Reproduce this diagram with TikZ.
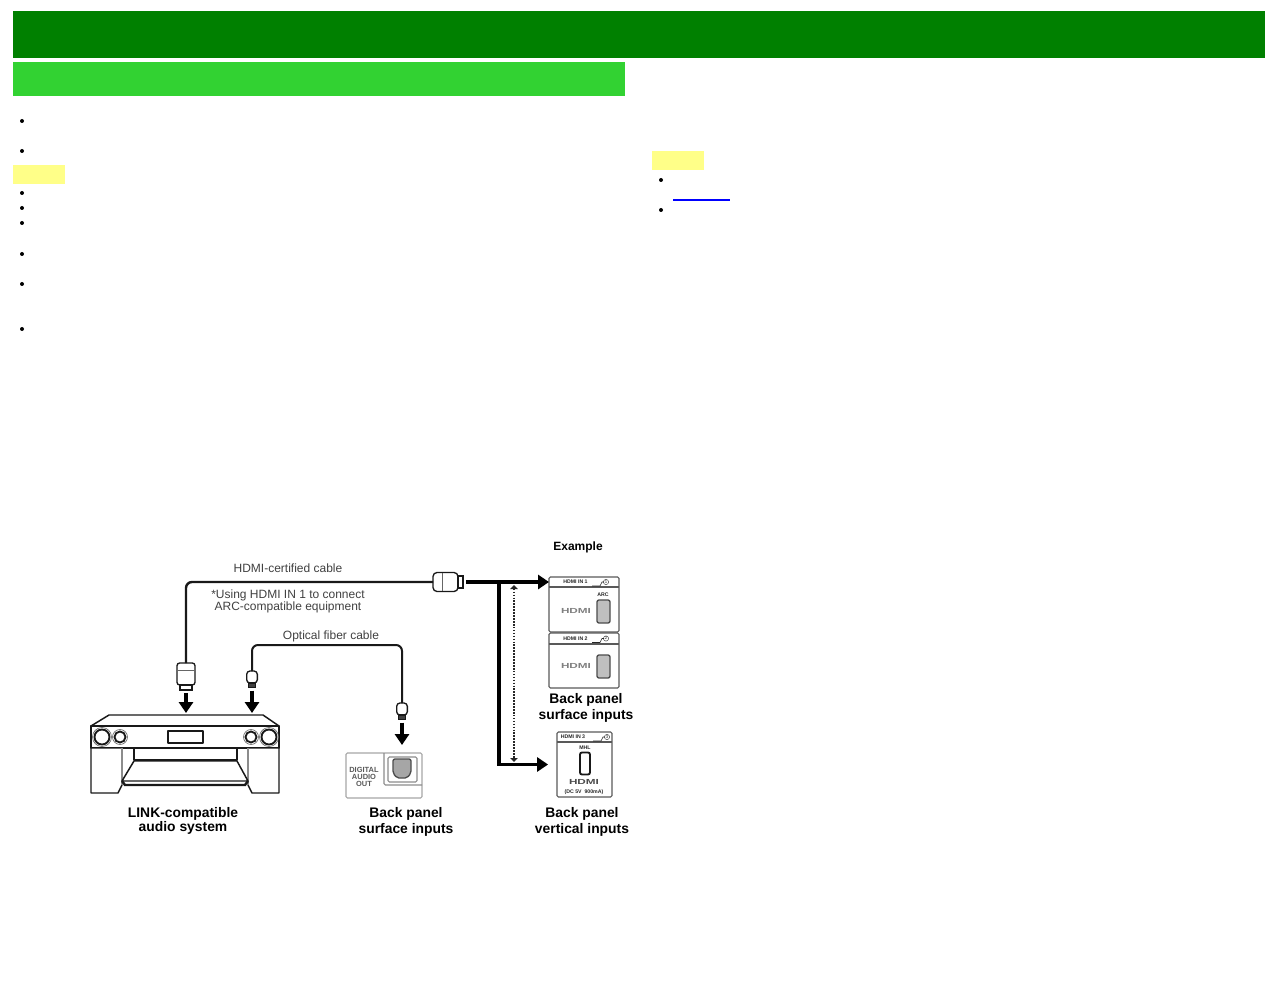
\documentclass[tikz,border=0pt]{standalone}
\usepackage{fontspec}
\setmainfont{Liberation Sans}
\usetikzlibrary{arrows.meta}

\begin{document}
\begin{tikzpicture}[x=0.75pt, y=-0.75pt,
  listdot/.style={circle, fill=black, inner sep=0pt, minimum size=3pt},
  cable/.style={line width=1.8pt, black!90, rounded corners=4.5pt},
  feed/.style={-{Triangle[length=8.2pt, width=10.5pt]}, line width=2.3pt},
  plug/.style={draw=black!90, line width=1pt, fill=white, inner sep=0pt, outer sep=0pt, rounded corners=2pt},
  panel/.style={draw=black!65, line width=0.8pt, inner sep=0pt, outer sep=0pt, rounded corners=1pt},
  port/.style={draw=black!70, line width=1pt, fill=gray!50, inner sep=0pt, outer sep=0pt, rounded corners=1.5pt},
  note/.style={align=center, text=black!75, font=\fontsize{9}{8.25}\selectfont, inner sep=0pt},
  caption/.style={align=center, font=\fontsize{10.4}{12}\selectfont\bfseries, inner sep=0pt},
  tiny/.style={text=black!85, inner sep=0pt, font=\fontsize{3.9}{4.5}\selectfont\bfseries},
  logo/.style={text=black!50, inner sep=0pt, xscale=1.6, font=\fontsize{5.5}{6}\selectfont\bfseries},
  unit/.style={line width=1.1pt, black!90, fill=white, line join=round}
]
\useasboundingbox (0,0) rectangle (1265,995);

% page bars
\fill[fill={rgb,255:red,0;green,128;blue,0}] (13,11) rectangle (1265,58);
\fill[fill={rgb,255:red,50;green,210;blue,50}] (13,62) rectangle (625,96);
\fill[fill={rgb,255:red,255;green,255;blue,136}] (13,165) rectangle (65,184);
\fill[fill={rgb,255:red,255;green,255;blue,136}] (652,151) rectangle (704,170);
\fill[blue] (673,199) rectangle (730,201);
\foreach \y in {121,151,193,208,223,254,284,329} { \node[listdot] at (22,\y) {}; }
\foreach \y in {180,210} { \node[listdot] at (661,\y) {}; }

% audio system
\draw[unit] (91,726) -- (109,715) -- (263,715) -- (279,726) -- cycle;
\draw[unit] (91,726) rectangle (279,748);
\draw[line width=2pt, black!90] (91,748) -- (279,748);
\draw[unit] (91,748) -- (122,748) -- (122,785) -- (118,793) -- (91,793) -- cycle;
\draw[unit] (279,748) -- (248,748) -- (248,785) -- (252,793) -- (279,793) -- cycle;
\draw[line width=0.8pt, black!45] (122,748) -- (122,785) (248,748) -- (248,785);
\draw[unit] (134,748) rectangle (237,760);
\draw[unit] (134,761) -- (122,781) -- (248,781) -- (237,761) -- cycle;
\draw[line width=1.8pt, black!90] (122,781) -- (125,785) -- (245,785) -- (248,781);
\draw[unit, line width=0.9pt] (168,731) rectangle (203,743);
\foreach \x/\r in {102/7.5, 120/5.5, 251/5.5, 269/7.5} {
  \draw[line width=1.4pt, black!90, fill=white] (\x,737) circle[radius=\r];
  \draw[line width=0.5pt, black!60] (\x,737) circle[radius=\r+2];
}

% plugs
\node[plug, minimum width=13.5pt, minimum height=16.5pt] (hdmiplug) at (186,674) {};
\draw[line width=0.7pt, black!60] (hdmiplug.west |- 0,670) -- (hdmiplug.east |- 0,670);
\node[plug, minimum width=9pt, minimum height=3.75pt, rounded corners=0pt, anchor=north] (hdmitip) at (hdmiplug.south) {};
\foreach \n/\x/\y in {sys/252/677, dig/402/709} {
  \node[plug, minimum width=8pt, minimum height=9pt, rounded corners=2.5pt] (optplug\n) at (\x,\y) {};
  \node[plug, fill=black!75, minimum width=5pt, minimum height=3.6pt, rounded corners=0pt, anchor=north] (opttip\n) at (optplug\n.south) {};
}
\node[plug, minimum width=18.75pt, minimum height=14.25pt, rounded corners=3pt] (inplug) at (445.5,582) {};
\draw[line width=0.7pt, black!60] (442,573) -- (442,591);
\node[plug, minimum width=3.75pt, minimum height=9pt, rounded corners=0pt, anchor=west] (intip) at (inplug.east) {};

% panels
\node[panel, minimum width=52.5pt, minimum height=41.25pt] (panelone) at (584,604.5) {};
\node[panel, minimum width=52.5pt, minimum height=41.25pt] (paneltwo) at (584,660.5) {};
\node[panel, minimum width=41.25pt, minimum height=48.75pt] (panelthree) at (584.5,764.5) {};
\node[panel, draw=black!35, minimum width=57pt, minimum height=33.75pt] (optpanel) at (384,775.5) {};
\coordinate (headone) at (549,582);
\draw[panel] (549,587) -- (619,587) (549,644) -- (619,644) (557,742) -- (612,742);
\draw[panel, draw=black!45] (384,753) -- (384,785) -- (422,785);
\draw[panel, draw=black!45] (388,757) rectangle (417,782);
\path[port, fill=gray!70] (393,759) -- (411,759) -- (411,773) -- (407,778) -- (397,778) -- (393,773) -- cycle;

\node[tiny] (labelone) at (575.5,582) {HDMI IN 1};
\node[tiny] (labeltwo) at (575.5,638.5) {HDMI IN 2};
\node[tiny] (labelthree) at (573,737) {HDMI IN 3};
\foreach \x/\y/\k in {592/586/1, 592/642.5/2, 593/741/3} {
  \draw[line width=0.4pt, black!85] (\x,\y) -- (\x+8,\y) -- (\x+10,\y-4) -- (\x+12,\y-4);
  \node[tiny, font=\fontsize{3.2}{4}\selectfont, draw=black!85, circle, line width=0.3pt, minimum size=3.9pt] (circ\k) at (\x+14,\y-4) {\k};
}
\node[tiny] (arc) at (603,595) {ARC};
\node[tiny] (mhl) at (585,748) {MHL};
\node[tiny] (power) at (584,792) {(DC 5V\ \ 900mA)};
\node[logo] (logoone) at (576,610.5) {HDMI};
\node[logo] (logotwo) at (576,666) {HDMI};
\node[logo, text=black!70] (logothree) at (584,782) {HDMI};
\node[port, minimum width=9.75pt, minimum height=17.25pt] (portone) at (603.5,611.5) {};
\node[port, minimum width=9.75pt, minimum height=17.25pt] (porttwo) at (603.5,666.5) {};
\node[port, draw=black!90, fill=white, line width=1.4pt, minimum width=7.5pt, minimum height=16.5pt] (portthree) at (585,763.5) {};

% connections
\coordinate (trunk) at (499,582);
\coordinate (dotstart) at (514,585);
\coordinate (dotend) at (514,762);
\coordinate (optbend) at (330,645);
\coordinate (syshdmi) at (186,713);
\coordinate (sysopt) at (252,713);
\coordinate (optin) at (402,745);

\draw[cable] (hdmiplug.north) |- (inplug.west);
\draw[cable, line width=1.5pt] (optplugsys.north) |- (optbend) -| (optplugdig.north);
\draw[feed, shorten <=2.6pt] (intip.east) -- (headone);
\draw[feed, line width=2.6pt, shorten >=6.7pt] (trunk) |- (panelthree.west);
\draw[feed, shorten <=2.2pt] (hdmitip.south) -- (syshdmi);
\draw[feed, shorten <=2.2pt] (opttipsys.south) -- (sysopt);
\draw[feed, shorten <=2.2pt] (opttipdig.south) -- (optin);
\draw[{Triangle[length=3pt, width=5.5pt]}-{Triangle[length=3pt, width=5.5pt]}, line width=1.2pt, black!85, densely dotted] (dotstart) -- (dotend);

% labels
\node[caption, font=\fontsize{9}{10}\selectfont\bfseries] (example) at (578,547) {Example};
\node[note] (hdmicable) at (288,568) {HDMI-certified cable};
\node[note] (arcnote) at (288,601.5) {*Using HDMI IN 1 to connect\\ARC-compatible equipment};
\node[note] (optcable) at (331,636.5) {Optical fiber cable};
\node[caption, font=\fontsize{10.4}{10.5}\selectfont\bfseries] (syslabel) at (183,820.5) {LINK-compatible\\audio system};
\node[caption] (optlabel) at (406,821.5) {Back panel\\surface inputs};
\node[caption] (panellabel) at (586,708) {Back panel\\surface inputs};
\node[caption] (vertlabel) at (582,821.5) {Back panel\\vertical inputs};
\node[tiny, text=black!65, align=center, font=\fontsize{5.6}{5.25}\selectfont\bfseries] (optname) at (364,777) {DIGITAL\\AUDIO\\OUT};

\end{tikzpicture}
\end{document}
